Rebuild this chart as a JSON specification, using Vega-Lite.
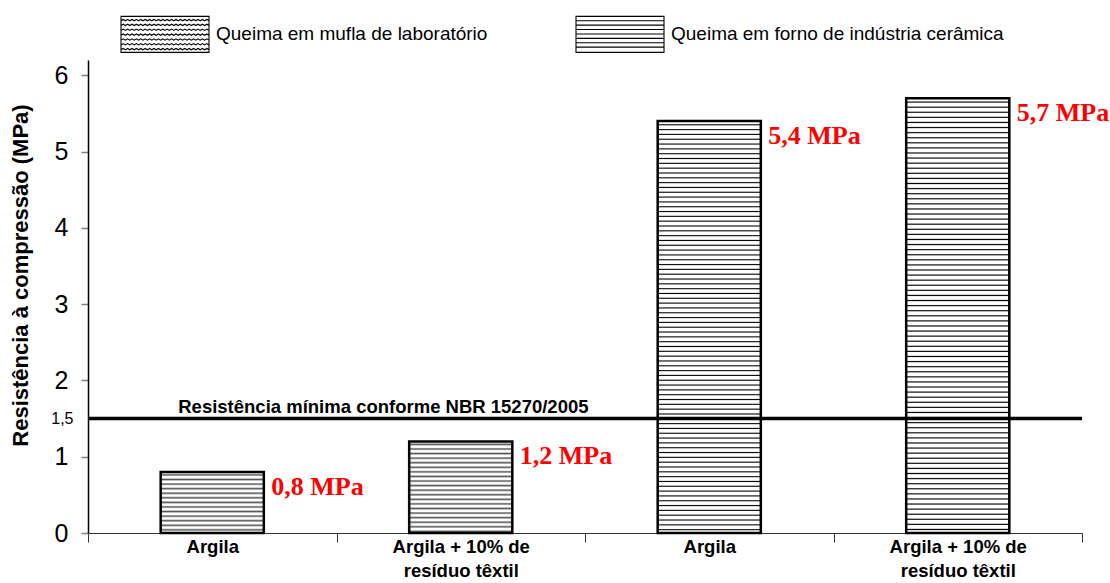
{
"$schema": "https://vega.github.io/schema/vega-lite/v6.json",
"width": 994, "height": 473,
"autosize": {"type": "none"},
"padding": {"left": 88, "top": 60, "right": 28, "bottom": 50},
"background": "white",
"config": {"view": {"stroke": null}, "font": "Liberation Sans"},
"datasets": {
 "amostras": [
  {"categoria": "Argila (mufla)", "queima": "Queima em mufla de laboratório", "valor": 0.8, "rotulo": "0,8 MPa"},
  {"categoria": "Argila + 10% de resíduo têxtil (mufla)", "queima": "Queima em mufla de laboratório", "valor": 1.2, "rotulo": "1,2 MPa"},
  {"categoria": "Argila (forno)", "queima": "Queima em forno de indústria cerâmica", "valor": 5.4, "rotulo": "5,4 MPa"},
  {"categoria": "Argila + 10% de resíduo têxtil (forno)", "queima": "Queima em forno de indústria cerâmica", "valor": 5.7, "rotulo": "5,7 MPa"}
 ],
 "norma": [{"limite": 1.5, "texto": "Resistência mínima conforme NBR 15270/2005"}]
},
"layer": [
 {
  "data": {"name": "amostras"},
  "encoding": {
   "x": {"field": "categoria", "type": "nominal", "sort": null, "title": null,
    "scale": {"paddingInner": 0, "paddingOuter": 0},
    "axis": {"labelExpr": "split(replace(substring(datum.label, 0, indexof(datum.label, ' (')), ' de ', ' de|'), '|')",
     "labelFont": "Liberation Sans", "labelFontSize": 18.5, "labelFontWeight": "bold", "labelColor": "black",
     "labelAngle": 0, "labelBaseline": "top", "labelLineHeight": 24, "labelPadding": -5, "labelLimit": 400,
     "tickBand": "extent", "tickSize": 9, "tickColor": "#333", "tickWidth": 1,
     "domainColor": "#333", "domainWidth": 1, "grid": false}},
   "y": {"field": "valor", "type": "quantitative", "title": "Resistência à compressão (MPa)",
    "scale": {"domain": [0, 6.2], "nice": false},
    "axis": {"values": [0, 1, 1.5, 2, 3, 4, 5, 6],
     "labelExpr": "replace(format(datum.value, '~g'), '.', ',')",
     "labelFont": "Liberation Sans", "labelColor": "black",
     "labelFontSize": {"condition": {"test": "datum.value == 1.5", "value": 16}, "value": 25},
     "labelPadding": {"condition": {"test": "datum.value == 1.5", "value": 8}, "value": 13},
     "labelOverlap": false, "labelFlush": false,
     "tickSize": 7, "tickWidth": 1.5,
     "tickColor": {"condition": {"test": "datum.value == 1.5", "value": "transparent"}, "value": "#808080"},
     "domainColor": "black", "domainWidth": 1.5, "grid": false,
     "titleFont": "Liberation Sans", "titleFontSize": 22, "titleFontWeight": "bold", "titleColor": "black",
     "titleX": -68, "titleY": 215, "titleAngle": -90, "titleAlign": "center", "titleBaseline": "middle"}}
  },
  "layer": [
   {
    "mark": {"type": "point", "filled": false, "color": "black", "opacity": 0, "strokeWidth": 1.2},
    "encoding": {"shape": {"field": "queima", "type": "nominal", "sort": null,
     "scale": {"range": [
      "M-1,-0.41 H1 V0.41 H-1 Z M-1,-0.31 l0.05,-0.03 0.05,0.03 0.05,-0.03 0.05,0.03 0.05,-0.03 0.05,0.03 0.05,-0.03 0.05,0.03 0.05,-0.03 0.05,0.03 0.05,-0.03 0.05,0.03 0.05,-0.03 0.05,0.03 0.05,-0.03 0.05,0.03 0.05,-0.03 0.05,0.03 0.05,-0.03 0.05,0.03 0.05,-0.03 0.05,0.03 0.05,-0.03 0.05,0.03 0.05,-0.03 0.05,0.03 0.05,-0.03 0.05,0.03 0.05,-0.03 0.05,0.03 0.05,-0.03 0.05,0.03 0.05,-0.03 0.05,0.03 0.05,-0.03 0.05,0.03 0.05,-0.03 0.05,0.03 0.05,-0.03 0.05,0.03 M-1,-0.2 l0.05,-0.03 0.05,0.03 0.05,-0.03 0.05,0.03 0.05,-0.03 0.05,0.03 0.05,-0.03 0.05,0.03 0.05,-0.03 0.05,0.03 0.05,-0.03 0.05,0.03 0.05,-0.03 0.05,0.03 0.05,-0.03 0.05,0.03 0.05,-0.03 0.05,0.03 0.05,-0.03 0.05,0.03 0.05,-0.03 0.05,0.03 0.05,-0.03 0.05,0.03 0.05,-0.03 0.05,0.03 0.05,-0.03 0.05,0.03 0.05,-0.03 0.05,0.03 0.05,-0.03 0.05,0.03 0.05,-0.03 0.05,0.03 0.05,-0.03 0.05,0.03 0.05,-0.03 0.05,0.03 0.05,-0.03 0.05,0.03 M-1,-0.09 l0.05,-0.03 0.05,0.03 0.05,-0.03 0.05,0.03 0.05,-0.03 0.05,0.03 0.05,-0.03 0.05,0.03 0.05,-0.03 0.05,0.03 0.05,-0.03 0.05,0.03 0.05,-0.03 0.05,0.03 0.05,-0.03 0.05,0.03 0.05,-0.03 0.05,0.03 0.05,-0.03 0.05,0.03 0.05,-0.03 0.05,0.03 0.05,-0.03 0.05,0.03 0.05,-0.03 0.05,0.03 0.05,-0.03 0.05,0.03 0.05,-0.03 0.05,0.03 0.05,-0.03 0.05,0.03 0.05,-0.03 0.05,0.03 0.05,-0.03 0.05,0.03 0.05,-0.03 0.05,0.03 0.05,-0.03 0.05,0.03 M-1,0.02 l0.05,-0.03 0.05,0.03 0.05,-0.03 0.05,0.03 0.05,-0.03 0.05,0.03 0.05,-0.03 0.05,0.03 0.05,-0.03 0.05,0.03 0.05,-0.03 0.05,0.03 0.05,-0.03 0.05,0.03 0.05,-0.03 0.05,0.03 0.05,-0.03 0.05,0.03 0.05,-0.03 0.05,0.03 0.05,-0.03 0.05,0.03 0.05,-0.03 0.05,0.03 0.05,-0.03 0.05,0.03 0.05,-0.03 0.05,0.03 0.05,-0.03 0.05,0.03 0.05,-0.03 0.05,0.03 0.05,-0.03 0.05,0.03 0.05,-0.03 0.05,0.03 0.05,-0.03 0.05,0.03 0.05,-0.03 0.05,0.03 M-1,0.13 l0.05,-0.03 0.05,0.03 0.05,-0.03 0.05,0.03 0.05,-0.03 0.05,0.03 0.05,-0.03 0.05,0.03 0.05,-0.03 0.05,0.03 0.05,-0.03 0.05,0.03 0.05,-0.03 0.05,0.03 0.05,-0.03 0.05,0.03 0.05,-0.03 0.05,0.03 0.05,-0.03 0.05,0.03 0.05,-0.03 0.05,0.03 0.05,-0.03 0.05,0.03 0.05,-0.03 0.05,0.03 0.05,-0.03 0.05,0.03 0.05,-0.03 0.05,0.03 0.05,-0.03 0.05,0.03 0.05,-0.03 0.05,0.03 0.05,-0.03 0.05,0.03 0.05,-0.03 0.05,0.03 0.05,-0.03 0.05,0.03 M-1,0.24 l0.05,-0.03 0.05,0.03 0.05,-0.03 0.05,0.03 0.05,-0.03 0.05,0.03 0.05,-0.03 0.05,0.03 0.05,-0.03 0.05,0.03 0.05,-0.03 0.05,0.03 0.05,-0.03 0.05,0.03 0.05,-0.03 0.05,0.03 0.05,-0.03 0.05,0.03 0.05,-0.03 0.05,0.03 0.05,-0.03 0.05,0.03 0.05,-0.03 0.05,0.03 0.05,-0.03 0.05,0.03 0.05,-0.03 0.05,0.03 0.05,-0.03 0.05,0.03 0.05,-0.03 0.05,0.03 0.05,-0.03 0.05,0.03 0.05,-0.03 0.05,0.03 0.05,-0.03 0.05,0.03 0.05,-0.03 0.05,0.03 M-1,0.35 l0.05,-0.03 0.05,0.03 0.05,-0.03 0.05,0.03 0.05,-0.03 0.05,0.03 0.05,-0.03 0.05,0.03 0.05,-0.03 0.05,0.03 0.05,-0.03 0.05,0.03 0.05,-0.03 0.05,0.03 0.05,-0.03 0.05,0.03 0.05,-0.03 0.05,0.03 0.05,-0.03 0.05,0.03 0.05,-0.03 0.05,0.03 0.05,-0.03 0.05,0.03 0.05,-0.03 0.05,0.03 0.05,-0.03 0.05,0.03 0.05,-0.03 0.05,0.03 0.05,-0.03 0.05,0.03 0.05,-0.03 0.05,0.03 0.05,-0.03 0.05,0.03 0.05,-0.03 0.05,0.03 0.05,-0.03 0.05,0.03",
      "M-1,-0.41 H1 V0.41 H-1 Z M-1,-0.31 H1 M-1,-0.21 H1 M-1,-0.11 H1 M-1,-0.01 H1 M-1,0.09 H1 M-1,0.19 H1 M-1,0.29 H1"]},
     "legend": {"title": null, "orient": "none", "legendX": 32, "legendY": -71, "direction": "horizontal", "columns": 2,
      "columnPadding": 85, "symbolSize": 7744, "symbolStrokeWidth": 1.1, "symbolOpacity": 1,
      "symbolStrokeColor": "black", "symbolFillColor": "white", "padding": 0,
      "labelFont": "Liberation Sans", "labelFontSize": 19, "labelColor": "black", "labelOffset": 6, "labelLimit": 600}}}
   },
   {
    "transform": [{"filter": "datum.categoria == 'Argila (mufla)'"}],
    "mark": {"type": "bar", "width": {"band": 0.415}, "strokeWidth": 2.5, "stroke": "black",
     "fill": {"gradient": "linear", "x1": 0, "y1": 0, "x2": 0, "y2": 1, "stops": [
      {"offset":0.0225,"color":"#fff"},{"offset":0.048,"color":"#555"},{"offset":0.075,"color":"#fff"},
      {"offset":0.0975,"color":"#fff"},{"offset":0.123,"color":"#555"},{"offset":0.15,"color":"#fff"},
      {"offset":0.1725,"color":"#fff"},{"offset":0.198,"color":"#555"},{"offset":0.225,"color":"#fff"},
      {"offset":0.2475,"color":"#fff"},{"offset":0.273,"color":"#555"},{"offset":0.3,"color":"#fff"},
      {"offset":0.3225,"color":"#fff"},{"offset":0.348,"color":"#555"},{"offset":0.375,"color":"#fff"},
      {"offset":0.3975,"color":"#fff"},{"offset":0.423,"color":"#555"},{"offset":0.45,"color":"#fff"},
      {"offset":0.4725,"color":"#fff"},{"offset":0.498,"color":"#555"},{"offset":0.525,"color":"#fff"},
      {"offset":0.5475,"color":"#fff"},{"offset":0.573,"color":"#555"},{"offset":0.6,"color":"#fff"},
      {"offset":0.6225,"color":"#fff"},{"offset":0.648,"color":"#555"},{"offset":0.675,"color":"#fff"},
      {"offset":0.6975,"color":"#fff"},{"offset":0.723,"color":"#555"},{"offset":0.75,"color":"#fff"},
      {"offset":0.7725,"color":"#fff"},{"offset":0.798,"color":"#555"},{"offset":0.825,"color":"#fff"},
      {"offset":0.8475,"color":"#fff"},{"offset":0.873,"color":"#555"},{"offset":0.9,"color":"#fff"},
      {"offset":0.9225,"color":"#fff"},{"offset":0.948,"color":"#555"},{"offset":0.975,"color":"#fff"}
     ]}},
    "encoding": {}
   },
   {
    "transform": [{"filter": "datum.categoria == 'Argila + 10% de resíduo têxtil (mufla)'"}],
    "mark": {"type": "bar", "width": {"band": 0.415}, "strokeWidth": 2.5, "stroke": "black",
     "fill": {"gradient": "linear", "x1": 0, "y1": 0, "x2": 0, "y2": 1, "stops": [
      {"offset":0.015,"color":"#fff"},{"offset":0.032,"color":"#555"},{"offset":0.05,"color":"#fff"},
      {"offset":0.065,"color":"#fff"},{"offset":0.082,"color":"#555"},{"offset":0.1,"color":"#fff"},
      {"offset":0.115,"color":"#fff"},{"offset":0.132,"color":"#555"},{"offset":0.15,"color":"#fff"},
      {"offset":0.165,"color":"#fff"},{"offset":0.182,"color":"#555"},{"offset":0.2,"color":"#fff"},
      {"offset":0.215,"color":"#fff"},{"offset":0.232,"color":"#555"},{"offset":0.25,"color":"#fff"},
      {"offset":0.265,"color":"#fff"},{"offset":0.282,"color":"#555"},{"offset":0.3,"color":"#fff"},
      {"offset":0.315,"color":"#fff"},{"offset":0.332,"color":"#555"},{"offset":0.35,"color":"#fff"},
      {"offset":0.365,"color":"#fff"},{"offset":0.382,"color":"#555"},{"offset":0.4,"color":"#fff"},
      {"offset":0.415,"color":"#fff"},{"offset":0.432,"color":"#555"},{"offset":0.45,"color":"#fff"},
      {"offset":0.465,"color":"#fff"},{"offset":0.482,"color":"#555"},{"offset":0.5,"color":"#fff"},
      {"offset":0.515,"color":"#fff"},{"offset":0.532,"color":"#555"},{"offset":0.55,"color":"#fff"},
      {"offset":0.565,"color":"#fff"},{"offset":0.582,"color":"#555"},{"offset":0.6,"color":"#fff"},
      {"offset":0.615,"color":"#fff"},{"offset":0.632,"color":"#555"},{"offset":0.65,"color":"#fff"},
      {"offset":0.665,"color":"#fff"},{"offset":0.682,"color":"#555"},{"offset":0.7,"color":"#fff"},
      {"offset":0.715,"color":"#fff"},{"offset":0.732,"color":"#555"},{"offset":0.75,"color":"#fff"},
      {"offset":0.765,"color":"#fff"},{"offset":0.782,"color":"#555"},{"offset":0.8,"color":"#fff"},
      {"offset":0.815,"color":"#fff"},{"offset":0.832,"color":"#555"},{"offset":0.85,"color":"#fff"},
      {"offset":0.865,"color":"#fff"},{"offset":0.882,"color":"#555"},{"offset":0.9,"color":"#fff"},
      {"offset":0.915,"color":"#fff"},{"offset":0.932,"color":"#555"},{"offset":0.95,"color":"#fff"},
      {"offset":0.965,"color":"#fff"},{"offset":0.982,"color":"#555"},{"offset":1,"color":"#fff"}
     ]}},
    "encoding": {}
   },
   {
    "transform": [{"filter": "indexof(datum.categoria, '(forno)') >= 0"}],
    "mark": {"type": "bar", "width": {"band": 0.415}, "strokeWidth": 2.5, "stroke": "black",
     "fill": {"gradient": "linear", "x1": 0, "y1": 0, "x2": 0, "y2": 1.17, "stops": [
{"offset":0.0055,"color":"#fff"},{"offset":0.0078,"color":"#000"},{"offset":0.01,"color":"#fff"},
{"offset":0.0155,"color":"#fff"},{"offset":0.0178,"color":"#000"},{"offset":0.02,"color":"#fff"},
{"offset":0.0255,"color":"#fff"},{"offset":0.0278,"color":"#000"},{"offset":0.03,"color":"#fff"},
{"offset":0.0355,"color":"#fff"},{"offset":0.0378,"color":"#000"},{"offset":0.04,"color":"#fff"},
{"offset":0.0455,"color":"#fff"},{"offset":0.0478,"color":"#000"},{"offset":0.05,"color":"#fff"},
{"offset":0.0555,"color":"#fff"},{"offset":0.0578,"color":"#000"},{"offset":0.06,"color":"#fff"},
{"offset":0.0655,"color":"#fff"},{"offset":0.0678,"color":"#000"},{"offset":0.07,"color":"#fff"},
{"offset":0.0755,"color":"#fff"},{"offset":0.0778,"color":"#000"},{"offset":0.08,"color":"#fff"},
{"offset":0.0855,"color":"#fff"},{"offset":0.0878,"color":"#000"},{"offset":0.09,"color":"#fff"},
{"offset":0.0955,"color":"#fff"},{"offset":0.0978,"color":"#000"},{"offset":0.1,"color":"#fff"},
{"offset":0.1055,"color":"#fff"},{"offset":0.1078,"color":"#000"},{"offset":0.11,"color":"#fff"},
{"offset":0.1155,"color":"#fff"},{"offset":0.1178,"color":"#000"},{"offset":0.12,"color":"#fff"},
{"offset":0.1255,"color":"#fff"},{"offset":0.1278,"color":"#000"},{"offset":0.13,"color":"#fff"},
{"offset":0.1355,"color":"#fff"},{"offset":0.1378,"color":"#000"},{"offset":0.14,"color":"#fff"},
{"offset":0.1455,"color":"#fff"},{"offset":0.1478,"color":"#000"},{"offset":0.15,"color":"#fff"},
{"offset":0.1555,"color":"#fff"},{"offset":0.1578,"color":"#000"},{"offset":0.16,"color":"#fff"},
{"offset":0.1655,"color":"#fff"},{"offset":0.1678,"color":"#000"},{"offset":0.17,"color":"#fff"},
{"offset":0.1755,"color":"#fff"},{"offset":0.1778,"color":"#000"},{"offset":0.18,"color":"#fff"},
{"offset":0.1855,"color":"#fff"},{"offset":0.1878,"color":"#000"},{"offset":0.19,"color":"#fff"},
{"offset":0.1955,"color":"#fff"},{"offset":0.1978,"color":"#000"},{"offset":0.2,"color":"#fff"},
{"offset":0.2055,"color":"#fff"},{"offset":0.2078,"color":"#000"},{"offset":0.21,"color":"#fff"},
{"offset":0.2155,"color":"#fff"},{"offset":0.2178,"color":"#000"},{"offset":0.22,"color":"#fff"},
{"offset":0.2255,"color":"#fff"},{"offset":0.2278,"color":"#000"},{"offset":0.23,"color":"#fff"},
{"offset":0.2355,"color":"#fff"},{"offset":0.2378,"color":"#000"},{"offset":0.24,"color":"#fff"},
{"offset":0.2455,"color":"#fff"},{"offset":0.2478,"color":"#000"},{"offset":0.25,"color":"#fff"},
{"offset":0.2555,"color":"#fff"},{"offset":0.2578,"color":"#000"},{"offset":0.26,"color":"#fff"},
{"offset":0.2655,"color":"#fff"},{"offset":0.2678,"color":"#000"},{"offset":0.27,"color":"#fff"},
{"offset":0.2755,"color":"#fff"},{"offset":0.2778,"color":"#000"},{"offset":0.28,"color":"#fff"},
{"offset":0.2855,"color":"#fff"},{"offset":0.2878,"color":"#000"},{"offset":0.29,"color":"#fff"},
{"offset":0.2955,"color":"#fff"},{"offset":0.2978,"color":"#000"},{"offset":0.3,"color":"#fff"},
{"offset":0.3055,"color":"#fff"},{"offset":0.3078,"color":"#000"},{"offset":0.31,"color":"#fff"},
{"offset":0.3155,"color":"#fff"},{"offset":0.3178,"color":"#000"},{"offset":0.32,"color":"#fff"},
{"offset":0.3255,"color":"#fff"},{"offset":0.3278,"color":"#000"},{"offset":0.33,"color":"#fff"},
{"offset":0.3355,"color":"#fff"},{"offset":0.3378,"color":"#000"},{"offset":0.34,"color":"#fff"},
{"offset":0.3455,"color":"#fff"},{"offset":0.3478,"color":"#000"},{"offset":0.35,"color":"#fff"},
{"offset":0.3555,"color":"#fff"},{"offset":0.3578,"color":"#000"},{"offset":0.36,"color":"#fff"},
{"offset":0.3655,"color":"#fff"},{"offset":0.3678,"color":"#000"},{"offset":0.37,"color":"#fff"},
{"offset":0.3755,"color":"#fff"},{"offset":0.3778,"color":"#000"},{"offset":0.38,"color":"#fff"},
{"offset":0.3855,"color":"#fff"},{"offset":0.3878,"color":"#000"},{"offset":0.39,"color":"#fff"},
{"offset":0.3955,"color":"#fff"},{"offset":0.3978,"color":"#000"},{"offset":0.4,"color":"#fff"},
{"offset":0.4055,"color":"#fff"},{"offset":0.4078,"color":"#000"},{"offset":0.41,"color":"#fff"},
{"offset":0.4155,"color":"#fff"},{"offset":0.4178,"color":"#000"},{"offset":0.42,"color":"#fff"},
{"offset":0.4255,"color":"#fff"},{"offset":0.4278,"color":"#000"},{"offset":0.43,"color":"#fff"},
{"offset":0.4355,"color":"#fff"},{"offset":0.4378,"color":"#000"},{"offset":0.44,"color":"#fff"},
{"offset":0.4455,"color":"#fff"},{"offset":0.4478,"color":"#000"},{"offset":0.45,"color":"#fff"},
{"offset":0.4555,"color":"#fff"},{"offset":0.4578,"color":"#000"},{"offset":0.46,"color":"#fff"},
{"offset":0.4655,"color":"#fff"},{"offset":0.4678,"color":"#000"},{"offset":0.47,"color":"#fff"},
{"offset":0.4755,"color":"#fff"},{"offset":0.4778,"color":"#000"},{"offset":0.48,"color":"#fff"},
{"offset":0.4855,"color":"#fff"},{"offset":0.4878,"color":"#000"},{"offset":0.49,"color":"#fff"},
{"offset":0.4955,"color":"#fff"},{"offset":0.4978,"color":"#000"},{"offset":0.5,"color":"#fff"},
{"offset":0.5055,"color":"#fff"},{"offset":0.5078,"color":"#000"},{"offset":0.51,"color":"#fff"},
{"offset":0.5155,"color":"#fff"},{"offset":0.5178,"color":"#000"},{"offset":0.52,"color":"#fff"},
{"offset":0.5255,"color":"#fff"},{"offset":0.5278,"color":"#000"},{"offset":0.53,"color":"#fff"},
{"offset":0.5355,"color":"#fff"},{"offset":0.5378,"color":"#000"},{"offset":0.54,"color":"#fff"},
{"offset":0.5455,"color":"#fff"},{"offset":0.5478,"color":"#000"},{"offset":0.55,"color":"#fff"},
{"offset":0.5555,"color":"#fff"},{"offset":0.5578,"color":"#000"},{"offset":0.56,"color":"#fff"},
{"offset":0.5655,"color":"#fff"},{"offset":0.5678,"color":"#000"},{"offset":0.57,"color":"#fff"},
{"offset":0.5755,"color":"#fff"},{"offset":0.5778,"color":"#000"},{"offset":0.58,"color":"#fff"},
{"offset":0.5855,"color":"#fff"},{"offset":0.5878,"color":"#000"},{"offset":0.59,"color":"#fff"},
{"offset":0.5955,"color":"#fff"},{"offset":0.5978,"color":"#000"},{"offset":0.6,"color":"#fff"},
{"offset":0.6055,"color":"#fff"},{"offset":0.6078,"color":"#000"},{"offset":0.61,"color":"#fff"},
{"offset":0.6155,"color":"#fff"},{"offset":0.6178,"color":"#000"},{"offset":0.62,"color":"#fff"},
{"offset":0.6255,"color":"#fff"},{"offset":0.6278,"color":"#000"},{"offset":0.63,"color":"#fff"},
{"offset":0.6355,"color":"#fff"},{"offset":0.6378,"color":"#000"},{"offset":0.64,"color":"#fff"},
{"offset":0.6455,"color":"#fff"},{"offset":0.6478,"color":"#000"},{"offset":0.65,"color":"#fff"},
{"offset":0.6555,"color":"#fff"},{"offset":0.6578,"color":"#000"},{"offset":0.66,"color":"#fff"},
{"offset":0.6655,"color":"#fff"},{"offset":0.6678,"color":"#000"},{"offset":0.67,"color":"#fff"},
{"offset":0.6755,"color":"#fff"},{"offset":0.6778,"color":"#000"},{"offset":0.68,"color":"#fff"},
{"offset":0.6855,"color":"#fff"},{"offset":0.6878,"color":"#000"},{"offset":0.69,"color":"#fff"},
{"offset":0.6955,"color":"#fff"},{"offset":0.6978,"color":"#000"},{"offset":0.7,"color":"#fff"},
{"offset":0.7055,"color":"#fff"},{"offset":0.7078,"color":"#000"},{"offset":0.71,"color":"#fff"},
{"offset":0.7155,"color":"#fff"},{"offset":0.7178,"color":"#000"},{"offset":0.72,"color":"#fff"},
{"offset":0.7255,"color":"#fff"},{"offset":0.7278,"color":"#000"},{"offset":0.73,"color":"#fff"},
{"offset":0.7355,"color":"#fff"},{"offset":0.7378,"color":"#000"},{"offset":0.74,"color":"#fff"},
{"offset":0.7455,"color":"#fff"},{"offset":0.7478,"color":"#000"},{"offset":0.75,"color":"#fff"},
{"offset":0.7555,"color":"#fff"},{"offset":0.7578,"color":"#000"},{"offset":0.76,"color":"#fff"},
{"offset":0.7655,"color":"#fff"},{"offset":0.7678,"color":"#000"},{"offset":0.77,"color":"#fff"},
{"offset":0.7755,"color":"#fff"},{"offset":0.7778,"color":"#000"},{"offset":0.78,"color":"#fff"},
{"offset":0.7855,"color":"#fff"},{"offset":0.7878,"color":"#000"},{"offset":0.79,"color":"#fff"},
{"offset":0.7955,"color":"#fff"},{"offset":0.7978,"color":"#000"},{"offset":0.8,"color":"#fff"},
{"offset":0.8055,"color":"#fff"},{"offset":0.8078,"color":"#000"},{"offset":0.81,"color":"#fff"},
{"offset":0.8155,"color":"#fff"},{"offset":0.8178,"color":"#000"},{"offset":0.82,"color":"#fff"},
{"offset":0.8255,"color":"#fff"},{"offset":0.8278,"color":"#000"},{"offset":0.83,"color":"#fff"},
{"offset":0.8355,"color":"#fff"},{"offset":0.8378,"color":"#000"},{"offset":0.84,"color":"#fff"},
{"offset":0.8455,"color":"#fff"},{"offset":0.8478,"color":"#000"},{"offset":0.85,"color":"#fff"},
{"offset":0.8555,"color":"#fff"},{"offset":0.8578,"color":"#000"},{"offset":0.86,"color":"#fff"},
{"offset":0.8655,"color":"#fff"},{"offset":0.8678,"color":"#000"},{"offset":0.87,"color":"#fff"},
{"offset":0.8755,"color":"#fff"},{"offset":0.8778,"color":"#000"},{"offset":0.88,"color":"#fff"},
{"offset":0.8855,"color":"#fff"},{"offset":0.8878,"color":"#000"},{"offset":0.89,"color":"#fff"},
{"offset":0.8955,"color":"#fff"},{"offset":0.8978,"color":"#000"},{"offset":0.9,"color":"#fff"},
{"offset":0.9055,"color":"#fff"},{"offset":0.9078,"color":"#000"},{"offset":0.91,"color":"#fff"},
{"offset":0.9155,"color":"#fff"},{"offset":0.9178,"color":"#000"},{"offset":0.92,"color":"#fff"},
{"offset":0.9255,"color":"#fff"},{"offset":0.9278,"color":"#000"},{"offset":0.93,"color":"#fff"},
{"offset":0.9355,"color":"#fff"},{"offset":0.9378,"color":"#000"},{"offset":0.94,"color":"#fff"},
{"offset":0.9455,"color":"#fff"},{"offset":0.9478,"color":"#000"},{"offset":0.95,"color":"#fff"},
{"offset":0.9555,"color":"#fff"},{"offset":0.9578,"color":"#000"},{"offset":0.96,"color":"#fff"},
{"offset":0.9655,"color":"#fff"},{"offset":0.9678,"color":"#000"},{"offset":0.97,"color":"#fff"},
{"offset":0.9755,"color":"#fff"},{"offset":0.9778,"color":"#000"},{"offset":0.98,"color":"#fff"},
{"offset":0.9855,"color":"#fff"},{"offset":0.9878,"color":"#000"},{"offset":0.99,"color":"#fff"},
{"offset":0.9955,"color":"#fff"},{"offset":0.9978,"color":"#000"},{"offset":1,"color":"#fff"}
     ]}},
    "encoding": {}
   },
   {
    "mark": {"type": "text", "align": "left", "baseline": "alphabetic", "dx": 59, "dy": 23,
     "font": "Liberation Serif", "fontSize": 26, "fontWeight": "bold", "color": "#ff0000"},
    "encoding": {"text": {"field": "rotulo"}}
   }
  ]
 },
 {
  "data": {"name": "norma"},
  "mark": {"type": "rule", "color": "black", "strokeWidth": 3.5},
  "encoding": {"y": {"field": "limite", "type": "quantitative", "title": "Resistência à compressão (MPa)"}}
 },
 {
  "data": {"name": "norma"},
  "mark": {"type": "text", "align": "left", "baseline": "alphabetic", "dx": -34, "dy": -6,
   "font": "Liberation Sans", "fontSize": 18.5, "fontWeight": "bold", "color": "black"},
  "encoding": {
   "x": {"datum": "Argila (mufla)", "type": "nominal"},
   "y": {"field": "limite", "type": "quantitative", "title": "Resistência à compressão (MPa)"},
   "text": {"field": "texto"}
  }
 }
]
}
